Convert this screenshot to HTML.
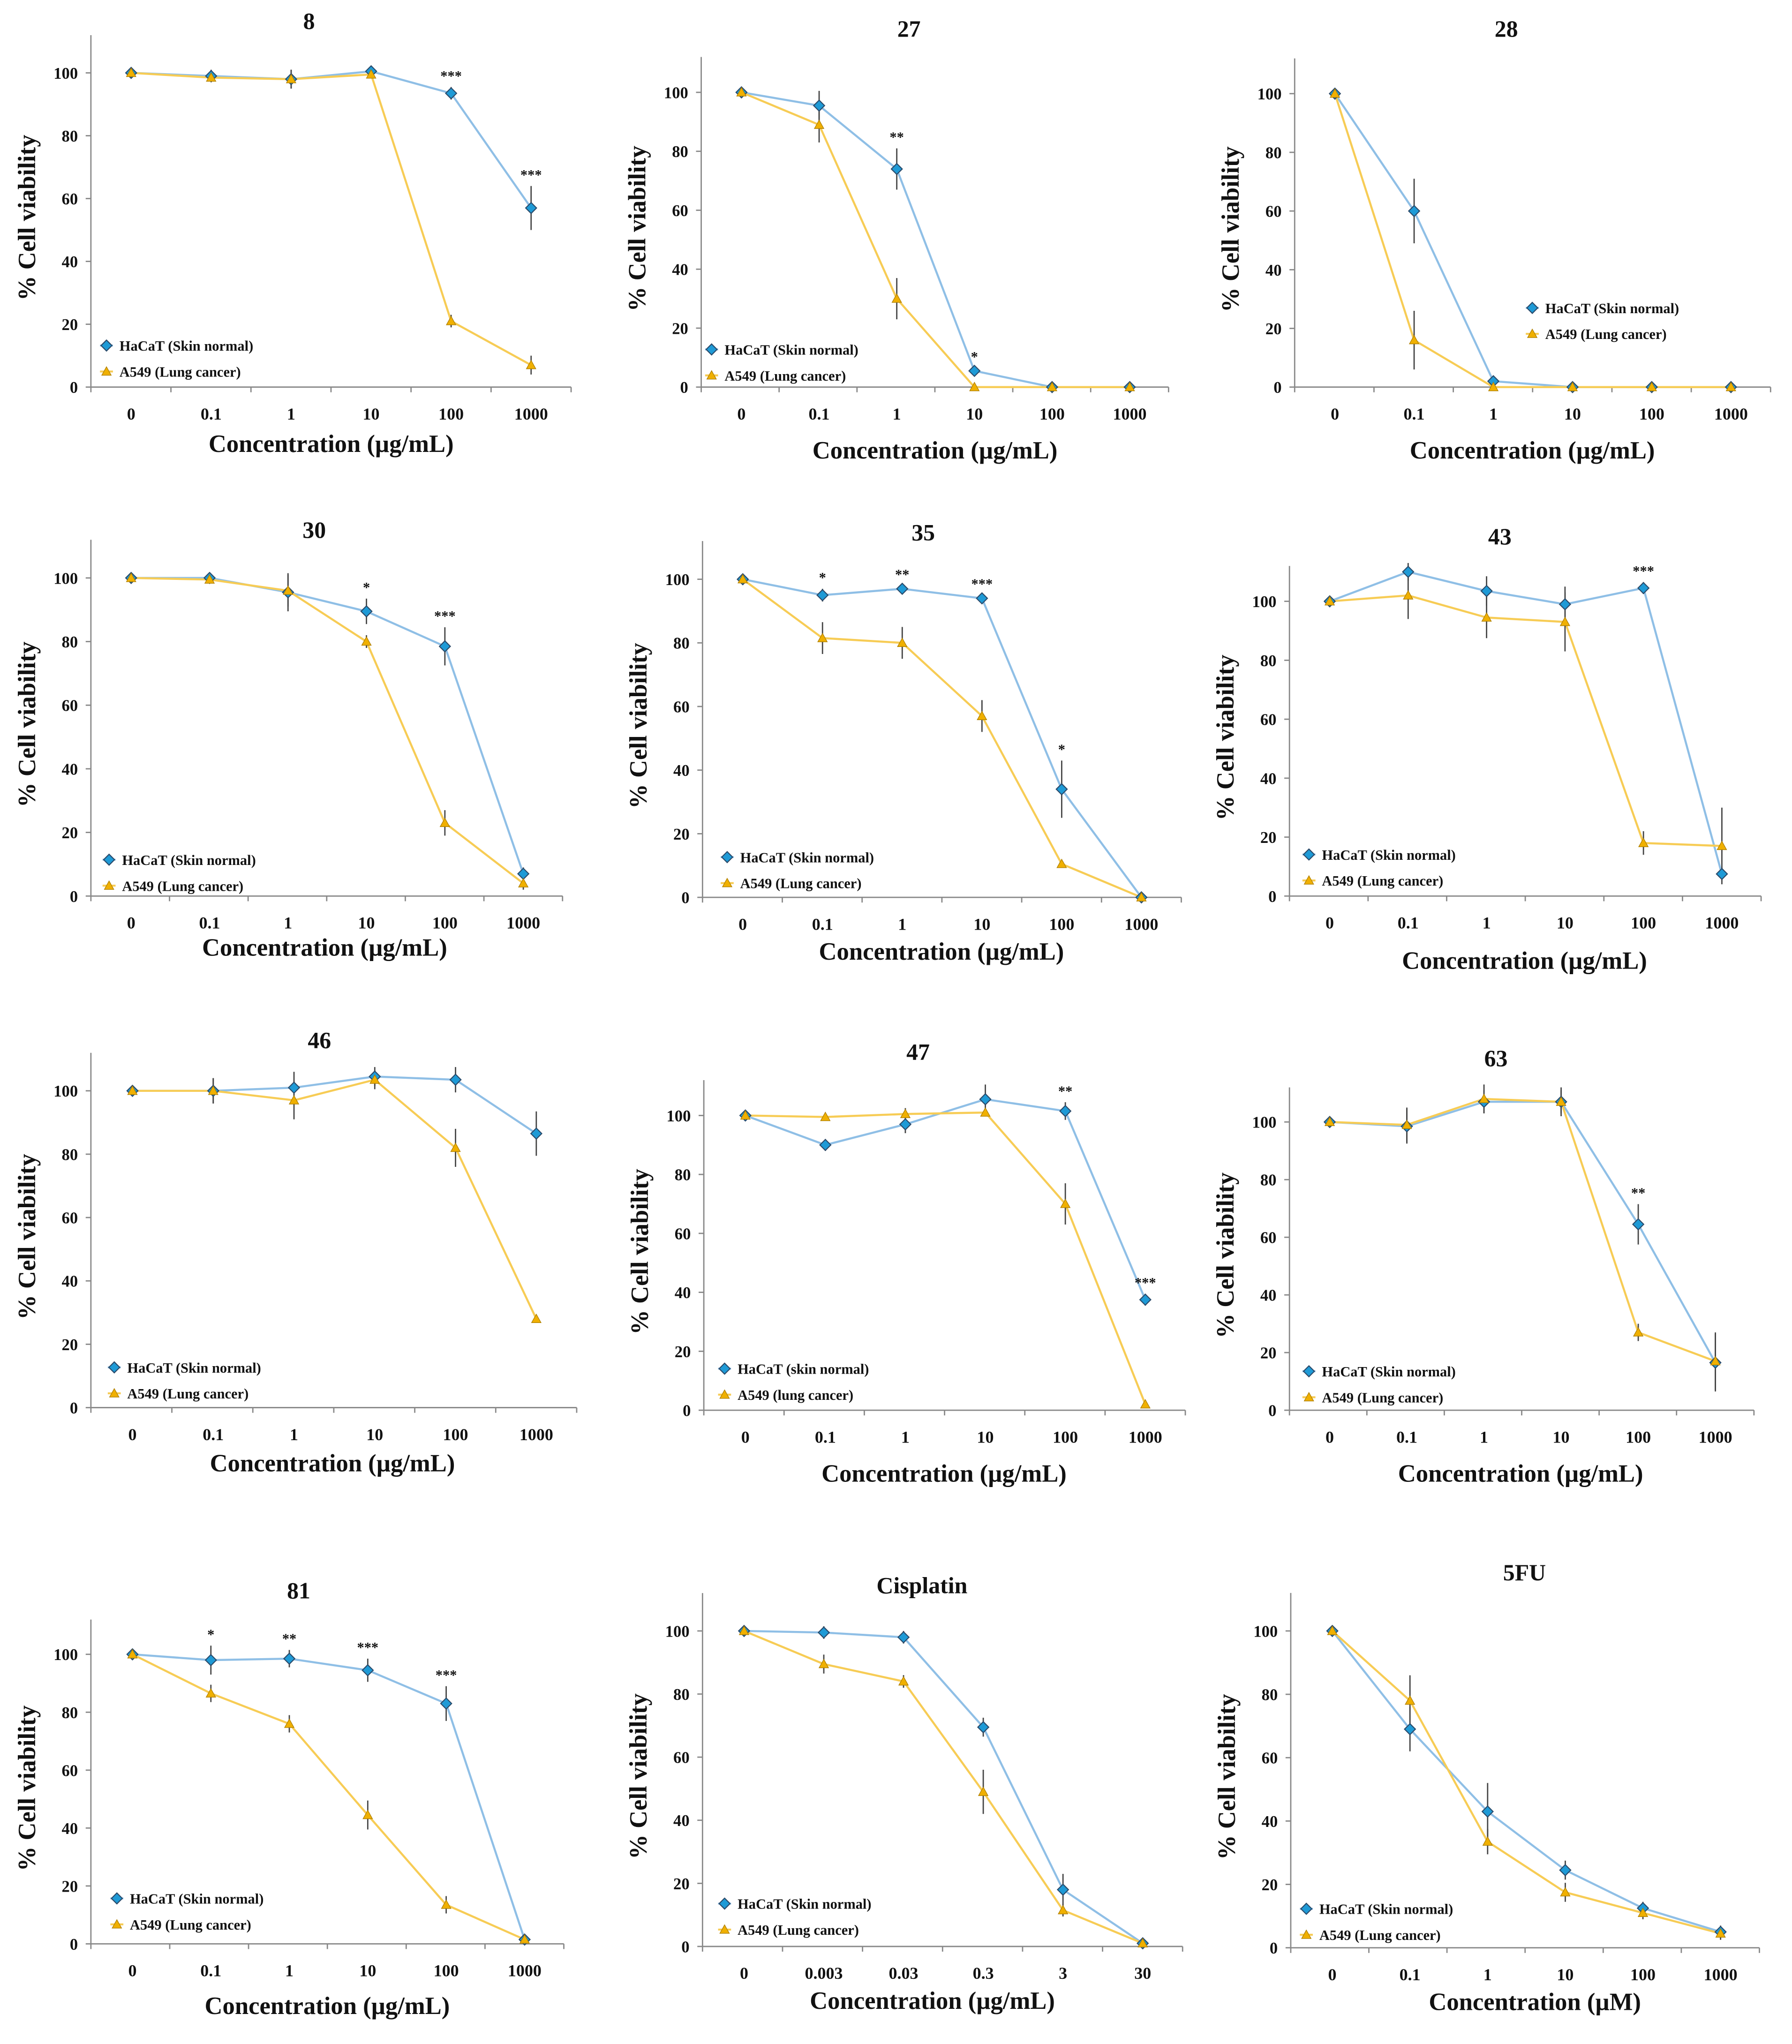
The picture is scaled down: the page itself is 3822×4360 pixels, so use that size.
<!DOCTYPE html>
<html><head><meta charset="utf-8">
<style>
html,body{margin:0;padding:0;background:#fff;}
svg{display:block;}
text{font-family:"Liberation Serif",serif;font-weight:bold;fill:#111;}
</style></head>
<body>
<svg id="fig" xmlns="http://www.w3.org/2000/svg" width="3822" height="4360" viewBox="0 0 1380 1574"></svg>
<script>
// ---- data ----
const panelTitles = ["8","27","28","30","35","43","46","47","63","81","Cisplatin","5FU"];
const xLabelsUg = ["0","0.1","1","10","100","1000"];
const xLabelsCis = ["0","0.003","0.03","0.3","3","30"];
const hacat8 = [100,99,98,100.5,93.5,57];      const hacat8Err=[1,2,3,1,2,7];
const a549_8 = [100,98.5,98,99.5,21,7];        const a549_8Err=[1,1,3,1,2,3];
const hacat27 = [100,95.5,74,5.5,0,0];         const hacat27Err=[1,5,7,1,0,0];
const a549_27 = [100,89,30,0,0,0];             const a549_27Err=[1,6,7,0,0,0];
const hacat28 = [100,60,2,0,0,0];              const hacat28Err=[1,11,1,0,0,0];
const a549_28 = [100,16,0,0,0,0];              const a549_28Err=[1,10,0,0,0,0];
const hacat30 = [100,100,95.5,89.5,78.5,7];    const hacat30Err=[1,1,6,4,6,2];
const a549_30 = [100,99.5,96,80,23,4];         const a549_30Err=[1,1,5,2,4,2];
const hacat35 = [100,95,97,94,34,0];           const hacat35Err=[1,2,1,1,9,1];
const a549_35 = [100,81.5,80,57,10.5,0];       const a549_35Err=[1,5,5,5,1,0];
const hacat43 = [100,110,103.5,99,104.5,7.5];  const hacat43Err=[1,3,5,6,2,2];
const a549_43 = [100,102,94.5,93,18,17];       const a549_43Err=[1,8,7,10,4,13];
const hacat46 = [100,100,101,104.5,103.5,86.5];const hacat46Err=[1,4,5,3,4,7];
const a549_46 = [100,100,97,103.5,82,28];      const a549_46Err=[1,4,6,3,6,1];
const hacat47 = [100,90,97,105.5,101.5,37.5];  const hacat47Err=[1,2,3,5,3,2];
const a549_47 = [100,99.5,100.5,101,70,2];     const a549_47Err=[1,1,2,1,7,1];
const hacat63 = [100,98.5,107,107,64.5,16.5];  const hacat63Err=[1,6,4,5,7,10];
const a549_63 = [100,99,108,107,27,17];        const a549_63Err=[1,6,5,4,3,10];
const hacat81 = [100,98,98.5,94.5,83,1.5];     const hacat81Err=[1,5,3,4,6,1];
const a549_81 = [100,86.5,76,44.5,13.5,1.5];   const a549_81Err=[1,3,3,5,3,1];
const hacatCis = [100,99.5,98,69.5,18,1];      const hacatCisErr=[1,2,2,3,5,1];
const a549Cis = [100,89.5,84,49,11.5,1];       const a549CisErr=[1,3,2,7,2,1];
const hacat5fu = [100,69,43,24.5,12.5,5];      const hacat5fuErr=[1,7,9,3,2,2];
const a549_5fu = [100,78,33.5,17.5,11,4.5];    const a549_5fuErr=[1,8,4,3,2,2];
const stars8=[["***",4],["***",5]], stars27=[["**",2],["*",3]], stars30=[["*",3],["***",4]];
const stars35=[["*",1],["**",2],["***",3],["*",4]], stars43=[["***",4]], stars47=[["**",4],["***",5]];
const stars63=[["**",4]], stars81=[["*",1],["**",2],["***",3],["***",4]];
const yTicks=[0,20,40,60,80,100];

// ---- layout (not data) ----
const L=[
 {ax:70,y0:298,y100:56,x0:101,dx:61.6,tx:238,ty:16,lx:82,ly:266,xl:255,xly:342},
 {ax:540,y0:298,y100:71,x0:571,dx:59.8,tx:700,ty:22,lx:548,ly:269,xl:720,xly:347},
 {ax:997,y0:298,y100:72,x0:1028,dx:61,tx:1160,ty:22,lx:1180,ly:237,xl:1180,xly:347},
 {ax:70,y0:690,y100:445,x0:101,dx:60.4,tx:242,ty:408,lx:84,ly:662,xl:250,xly:730},
 {ax:541,y0:691,y100:446,x0:572,dx:61.4,tx:711,ty:410,lx:560,ly:660,xl:725,xly:733},
 {ax:993,y0:690,y100:463,x0:1024,dx:60.4,tx:1155,ty:413,lx:1008,ly:658,xl:1174,xly:740},
 {ax:70,y0:1084,y100:840,x0:102,dx:62.2,tx:246,ty:801,lx:88,ly:1053,xl:256,xly:1127},
 {ax:542,y0:1086,y100:859,x0:574,dx:61.6,tx:707,ty:810,lx:558,ly:1054,xl:727,xly:1135},
 {ax:993,y0:1086,y100:864,x0:1024,dx:59.4,tx:1152,ty:815,lx:1008,ly:1056,xl:1171,xly:1135},
 {ax:70,y0:1497,y100:1274,x0:102,dx:60.4,tx:230,ty:1225,lx:90,ly:1462,xl:252,xly:1545},
 {ax:541,y0:1499,y100:1256,x0:573,dx:61.4,tx:710,ty:1221,lx:558,ly:1466,xl:718,xly:1541},
 {ax:994,y0:1500,y100:1256,x0:1026,dx:59.8,tx:1174,ty:1211,lx:1006,ly:1470,xl:1182,xly:1542}
];
const P=[
 [hacat8,hacat8Err,a549_8,a549_8Err,stars8],[hacat27,hacat27Err,a549_27,a549_27Err,stars27],
 [hacat28,hacat28Err,a549_28,a549_28Err,[]],[hacat30,hacat30Err,a549_30,a549_30Err,stars30],
 [hacat35,hacat35Err,a549_35,a549_35Err,stars35],[hacat43,hacat43Err,a549_43,a549_43Err,stars43],
 [hacat46,hacat46Err,a549_46,a549_46Err,[]],[hacat47,hacat47Err,a549_47,a549_47Err,stars47],
 [hacat63,hacat63Err,a549_63,a549_63Err,stars63],[hacat81,hacat81Err,a549_81,a549_81Err,stars81],
 [hacatCis,hacatCisErr,a549Cis,a549CisErr,[]],[hacat5fu,hacat5fuErr,a549_5fu,a549_5fuErr,[]]
];
const NS="http://www.w3.org/2000/svg";
const svg=document.getElementById('fig');
function mk(tag,attrs,parent,txt){const e=document.createElementNS(NS,tag);for(const k in attrs)e.setAttribute(k,attrs[k]);if(txt!==undefined)e.textContent=txt;(parent||svg).appendChild(e);return e;}
const BLUE_L="#8fbfe6",BLUE_M="#1e9ad6",YEL_L="#f7cc55",YEL_M="#f0b000";
function diamond(x,y,g){const s=4.2;const d=mk('path',{d:`M${x},${y-s}L${x+s},${y}L${x},${y+s}L${x-s},${y}Z`,fill:BLUE_M,stroke:'#2a4a6a','stroke-width':0.8},g);}
function tri(x,y,g){const s=3.6;const t=mk('path',{d:`M${x},${y-s}L${x+s},${y+s*0.8}L${x-s},${y+s*0.8}Z`,fill:YEL_M,stroke:'#b08000','stroke-width':0.5},g);}

P.forEach((p,i)=>{
 const l=L[i];
 const g=mk('g',{});
 
 
 const ys=v=>l.y0-(l.y100-l.y0)*-v/100;
 const xs=k=>l.x0+k*l.dx;
 const h=l.y0-l.y100;
 const top=l.y100-0.12*h;
 const xEnd=xs(5)+l.dx/2;
 // axes
 const ya=mk('line',{x1:l.ax,y1:top,x2:l.ax,y2:l.y0,stroke:'#888','stroke-width':1},g);
 
 
 const xa=mk('line',{x1:l.ax,y1:l.y0,x2:xEnd,y2:l.y0,stroke:'#888','stroke-width':1},g);
 
 
 yTicks.forEach(t=>{
  mk('line',{x1:l.ax-4,y1:ys(t),x2:l.ax,y2:ys(t),stroke:'#888','stroke-width':1},g);
  const tl=mk('text',{x:l.ax-10,y:ys(t)+4.5,'text-anchor':'end','font-size':12.5},g,String(t));
  
  
 });
 const xl=i===10?xLabelsCis:xLabelsUg;
 for(let k=0;k<=6;k++){const xx=l.ax+(xEnd-l.ax)*k/6;mk('line',{x1:xx,y1:l.y0,x2:xx,y2:l.y0+4,stroke:'#888','stroke-width':1},g);}
 xl.forEach((s,k)=>{
  const t=mk('text',{x:xs(k),y:l.y0+25,'text-anchor':'middle','font-size':13},g,s);
  
  
 });
 const ti=mk('text',{x:l.tx,y:l.ty+6,'text-anchor':'middle','font-size':18},g,panelTitles[i]);
 
 
 const yl=mk('text',{x:0,y:0,'text-anchor':'middle','font-size':19,transform:`translate(${l.ax-43},${(top+l.y0)/2+5}) rotate(-90)`},g,'% Cell viability');
 
 
 const xt=mk('text',{x:l.xl,y:l.xly+6,'text-anchor':'middle','font-size':19},g,i===11?'Concentration (\u00b5M)':'Concentration (\u00b5g/mL)');
 
 
 // series
 const ser=[[p[0],p[1],BLUE_L,'hacat'],[p[2],p[3],YEL_L,'a549']];
 ser.forEach(([v,e,c,n])=>{
  const pl=mk('polyline',{points:v.map((d,k)=>xs(k)+','+ys(d)).join(' '),fill:'none',stroke:c,'stroke-width':1.6},g);
  
  
 });
 ser.forEach(([v,e,c,n])=>{
  v.forEach((d,k)=>{
   if(e[k]>0){const eb=mk('line',{x1:xs(k),y1:ys(d+e[k]),x2:xs(k),y2:ys(d-e[k]),stroke:'#444','stroke-width':1},g);
   
   }
  });
 });
 p[0].forEach((d,k)=>diamond(xs(k),ys(d),g));
 p[2].forEach((d,k)=>tri(xs(k),ys(d),g));
 p[4].forEach(([s,k])=>{
  const st=mk('text',{x:xs(k),y:ys(p[0][k]+p[1][k])-5,'text-anchor':'middle','font-size':11},g,s);
  
  
 });
 // legend
 const lg=mk('g',{},g);
 
 
 mk('line',{x1:l.lx-5,y1:l.ly,x2:l.lx+5,y2:l.ly,stroke:BLUE_L,'stroke-width':1.5},lg);
 diamond(l.lx,l.ly,lg);
 const t1=mk('text',{x:l.lx+10,y:l.ly+4,'font-size':11},lg,i===7?'HaCaT (skin normal)':'HaCaT (Skin normal)');
 
 
 mk('line',{x1:l.lx-5,y1:l.ly+20,x2:l.lx+5,y2:l.ly+20,stroke:YEL_L,'stroke-width':1.5},lg);
 tri(l.lx,l.ly+20,lg);
 const t2=mk('text',{x:l.lx+10,y:l.ly+24,'font-size':11},lg,i===7?'A549 (lung cancer)':'A549 (Lung cancer)');
 
 
});
</script>
</body></html>
